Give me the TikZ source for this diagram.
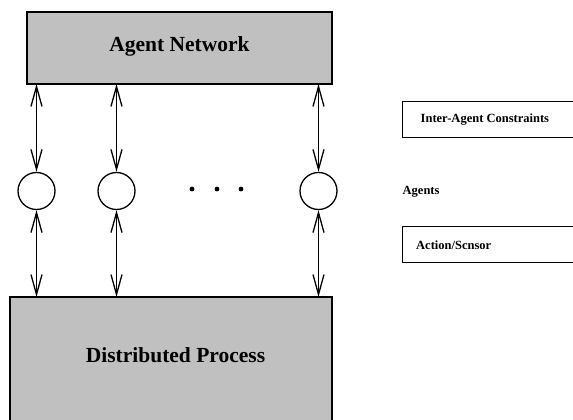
\documentclass[tikz,border=0pt]{standalone}
\usepackage{fontspec}
\setmainfont{Liberation Serif}
\usetikzlibrary{arrows.meta}
\definecolor{boxgray}{RGB}{192,192,192}
\tikzset{
  blockbox/.style={draw=black, line width=1.4pt, fill=boxgray, inner sep=0pt},
  agentcirc/.style={circle, draw=black, line width=1.3pt, minimum size=37pt, inner sep=0pt},
  legendbox/.style={draw=black, line width=1pt},
  biarrow/.style={line width=1.3pt, {Straight Barb[length=20pt,width=11pt]}-{Straight Barb[length=20pt,width=11pt]}},
  biglabel/.style={font=\bfseries\fontsize{21.5}{24}\selectfont},
  smalllabel/.style={font=\bfseries\fontsize{12.5}{14}\selectfont, anchor=west, inner sep=0pt},
}
\begin{document}
\begin{tikzpicture}[x=1pt, y=-1pt]
  \useasboundingbox (0,0) rectangle (573,420);
  \clip (0,0) rectangle (573,420);

  % main blocks
  \draw[blockbox] (27,12) rectangle (332,84);
  \node[biglabel] (net) at (179.5,46) {Agent Network};
  \draw[blockbox] (10,297) rectangle (332,430);
  \node[biglabel] (proc) at (175.5,355) {Distributed Process};

  % agents
  \node[agentcirc] (a1) at (36.5,191) {};
  \node[agentcirc] (a2) at (116.5,191) {};
  \node[agentcirc] (a3) at (318.5,191) {};
  \coordinate (t1) at (36.5,84);   \coordinate (b1) at (36.5,297);
  \coordinate (t2) at (116.5,84);  \coordinate (b2) at (116.5,297);
  \coordinate (t3) at (318.5,84);  \coordinate (b3) at (318.5,297);
  \foreach \i in {1,2,3} {
    \draw[biarrow] (t\i) -- (a\i.north);
    \draw[biarrow] (a\i.south) -- (b\i);
  }

  % ellipsis
  \foreach \x in {192, 217, 241}
    \fill (\x,189) circle (2.4pt);

  % legend
  \draw[legendbox] (580,101.5) -- (402.5,101.5) -- (402.5,137.5) -- (580,137.5);
  \node[smalllabel] (lc) at (420.5,120) {Inter-Agent Constraints};
  \node[smalllabel] (la) at (402.5,192) {Agents};
  \draw[legendbox] (580,226) -- (402.5,226) -- (402.5,262.5) -- (580,262.5);
  \node[smalllabel] (ls) at (416,245) {Action/Scnsor};
\end{tikzpicture}
\end{document}
